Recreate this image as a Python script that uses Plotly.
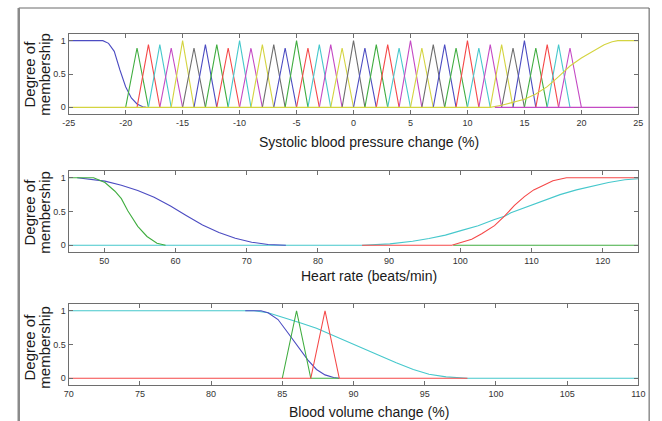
import plotly.graph_objects as go

# ---------------- data ----------------
# Panel 1: systolic blood pressure change (%)
sbp_centers = [-19, -18, -17, -16, -15, -14, -13, -12, -11, -10, -9, -8, -7, -6, -5, -4, -3, -2, -1,
               0, 1, 2, 3, 4, 5, 6, 7, 8, 9, 10, 11, 12, 13, 14, 15, 16, 17, 18, 19]
sbp_peaks = [0.89, 0.94, 0.94, 0.89, 1.0, 0.89, 0.94, 0.94, 0.89, 1.0,
             0.89, 0.94, 0.94, 0.89, 1.0, 0.89, 0.94, 0.94, 0.89, 1.0,
             0.89, 0.94, 0.94, 0.89, 1.0, 0.89, 0.94, 0.94, 0.89, 1.0,
             0.89, 0.94, 0.94, 0.89, 1.0, 0.89, 0.94, 0.94, 0.89]
sbp_halfwidth = 1.0
sbp_low_x = [-25, -22, -21.5, -21, -20.5, -20, -19.5, -19, -18.5, -18.2]
sbp_low_y = [1, 1, 0.96, 0.84, 0.56, 0.31, 0.14, 0.05, 0.01, 0]
sbp_high_x = [-25, 12, 13, 14, 15, 16, 17, 18, 19, 20, 21, 22, 22.7, 23.2, 25]
sbp_high_y = [0, 0, 0.03, 0.07, 0.12, 0.20, 0.31, 0.46, 0.62, 0.74, 0.84, 0.94, 0.985, 1, 1]
sbp_tail_x = [12.4, 25]
sbp_tail_y = [0, 0]
sbp_ticks = [-25, -20, -15, -10, -5, 0, 5, 10, 15, 20, 25]
sbp_tick_labels = ["-25", "-20", "-15", "-10", "-5", "0", "5", "10", "15", "20", "25"]

# Panel 2: heart rate (beats/min)
hr_blue_x = [46.2, 50.1, 52.4, 54.7, 57.0, 59.3, 61.5, 63.8, 66.1, 68.4, 70.7, 73.0, 75.5]
hr_blue_y = [1.0, 0.95, 0.89, 0.81, 0.71, 0.58, 0.44, 0.30, 0.19, 0.105, 0.045, 0.012, 0]
hr_green_x = [45, 48.5, 50.1, 51.5, 52.4, 53.3, 54.7, 56.0, 57.4, 58.6, None, 99, 125]
hr_green_y = [1, 1, 0.93, 0.80, 0.69, 0.51, 0.28, 0.13, 0.03, 0, None, 0, 0]
hr_cyan_x = [45, 86.2, 90.1, 93.3, 95.6, 97.9, 100.2, 102.5, 104.8, 106.2, 107.1, 109.4,
             111.7, 114.0, 116.3, 118.6, 120.8, 123.1, 125]
hr_cyan_y = [0, 0, 0.02, 0.06, 0.10, 0.15, 0.22, 0.29, 0.38, 0.43, 0.48, 0.57,
             0.67, 0.75, 0.82, 0.88, 0.93, 0.97, 0.985]
hr_red_x = [86.2, 98.8, 100.2, 101.6, 103.0, 104.8, 106.2, 107.6, 109.0, 110.3, 111.7, 113.0, 114.9, 125]
hr_red_y = [0, 0, 0.045, 0.09, 0.17, 0.29, 0.43, 0.59, 0.72, 0.82, 0.89, 0.955, 1, 1]
hr_ticks = [50, 60, 70, 80, 90, 100, 110, 120]

# Panel 3: blood volume change (%)
bv_cyan_x = [70, 83, 84, 85.1, 86.3, 87.4, 88.4, 89.7, 90.7, 91.9, 93.0, 94.2, 95.3, 96.5, 98, 110]
bv_cyan_y = [1, 1, 0.97, 0.90, 0.82, 0.74, 0.65, 0.53, 0.45, 0.33, 0.23, 0.13, 0.06, 0.02, 0, 0]
bv_blue_x = [82.4, 83.5, 84.0, 84.7, 85.3, 85.8, 86.3, 86.8, 87.4, 88.0, 88.6, 89.0]
bv_blue_y = [1, 1, 0.97, 0.87, 0.70, 0.56, 0.42, 0.27, 0.13, 0.05, 0.01, 0]
bv_green_x = [85, 86, 87, 89]
bv_green_y = [0, 1, 0, 0]
bv_red_x = [70, 87, 88, 89, 98]
bv_red_y = [0, 0, 1, 0, 0]
bv_ticks = [70, 75, 80, 85, 90, 95, 100, 105, 110]

deg_ticks = [0, 0.5, 1]
deg_tick_labels = ["0", "0.5", "1"]

# ---------------- style ----------------
BLUE, GREEN, RED, CYAN = "#4c4cc2", "#40ad40", "#f54848", "#46c8cc"
MAGENTA, YELLOW, GRAY = "#c44ac4", "#d4d440", "#6e6e6e"
cycle = [GREEN, RED, CYAN, MAGENTA, YELLOW, GRAY, BLUE]
LW = 1.1
W, H = 662, 421
FONT = "Liberation Sans, Arial, sans-serif"


def xd(px):
    return px / W


def yd(py):
    return 1 - py / H


fig = go.Figure()


def line(x, y, color, ax):
    fig.add_trace(go.Scatter(x=x, y=y, mode="lines", line=dict(color=color, width=LW),
                             xaxis="x" + ax, yaxis="y" + ax, showlegend=False,
                             hoverinfo="skip"))


# panel 1
line(sbp_low_x, sbp_low_y, BLUE, "")
for i, (c, h) in enumerate(zip(sbp_centers, sbp_peaks)):
    line([c - sbp_halfwidth, c, c + sbp_halfwidth], [0, h, 0], cycle[i % len(cycle)], "")
line(sbp_high_x, sbp_high_y, YELLOW, "")
line(sbp_tail_x, sbp_tail_y, MAGENTA, "")

# panel 2
line(hr_cyan_x, hr_cyan_y, CYAN, "2")
line(hr_blue_x, hr_blue_y, BLUE, "2")
line(hr_green_x, hr_green_y, GREEN, "2")
line(hr_red_x, hr_red_y, RED, "2")

# panel 3
line(bv_cyan_x, bv_cyan_y, CYAN, "3")
line(bv_blue_x, bv_blue_y, BLUE, "3")
line(bv_green_x, bv_green_y, GREEN, "3")
line(bv_red_x, bv_red_y, RED, "3")

AX = dict(showline=True, linecolor="#6e6e6e", linewidth=1, mirror="ticks", ticks="inside",
          ticklen=4, tickcolor="#6e6e6e", showgrid=False, zeroline=False,
          tickfont=dict(family=FONT, size=9, color="#333"), fixedrange=True)

xdom = [xd(63), xd(645)]
panels = [(34, 114), (171, 252), (304, 385)]

layout = dict(width=W, height=H, margin=dict(l=0, r=0, t=0, b=0),
              plot_bgcolor="white", paper_bgcolor="white", showlegend=False)

layout["xaxis"] = dict(AX, domain=xdom, range=[-25, 25], tickvals=sbp_ticks,
                       ticktext=sbp_tick_labels, anchor="y")
layout["xaxis2"] = dict(AX, domain=xdom, range=[45, 125], tickvals=hr_ticks, anchor="y2")
layout["xaxis3"] = dict(AX, domain=xdom, range=[70, 110], tickvals=bv_ticks, anchor="y3")
for k, (t, b) in zip(["yaxis", "yaxis2", "yaxis3"], panels):
    layout[k] = dict(AX, domain=[yd(b), yd(t)], range=[-0.1, 1.1], tickvals=deg_ticks,
                     ticktext=deg_tick_labels, anchor=k.replace("yaxis", "x"))

ann = []
xtitles = [("Systolic blood pressure change (%)", 142), ("Heart rate (beats/min)", 276),
           ("Blood volume change (%)", 411.5)]
for txt, py in xtitles:
    ann.append(dict(text=txt, x=xd(370), y=yd(py), xref="paper", yref="paper",
                    xanchor="center", yanchor="middle", showarrow=False,
                    font=dict(family=FONT, size=14, color="#1a1a1a")))
for pyc in [74, 212, 347]:
    for txt, px in [("Degree of", 22), ("membership", 37.5)]:
        ann.append(dict(text=txt, x=xd(px), y=yd(pyc), xref="paper", yref="paper",
                        xanchor="center", yanchor="middle", showarrow=False, textangle=-90,
                        font=dict(family=FONT, size=15, color="#1a1a1a")))
layout["annotations"] = ann

layout["shapes"] = [
    dict(type="line", xref="paper", yref="paper", x0=xd(12), x1=xd(656), y0=yd(8), y1=yd(8),
         line=dict(color="#6a6a6a", width=1)),
    dict(type="line", xref="paper", yref="paper", x0=xd(12), x1=xd(12), y0=yd(8), y1=-0.05,
         line=dict(color="#8a8a8a", width=2.5)),
    dict(type="line", xref="paper", yref="paper", x0=xd(656), x1=xd(656), y0=yd(8), y1=-0.05,
         line=dict(color="#555555", width=1)),
]

fig.update_layout(**layout)
fig.write_html("out.html")
